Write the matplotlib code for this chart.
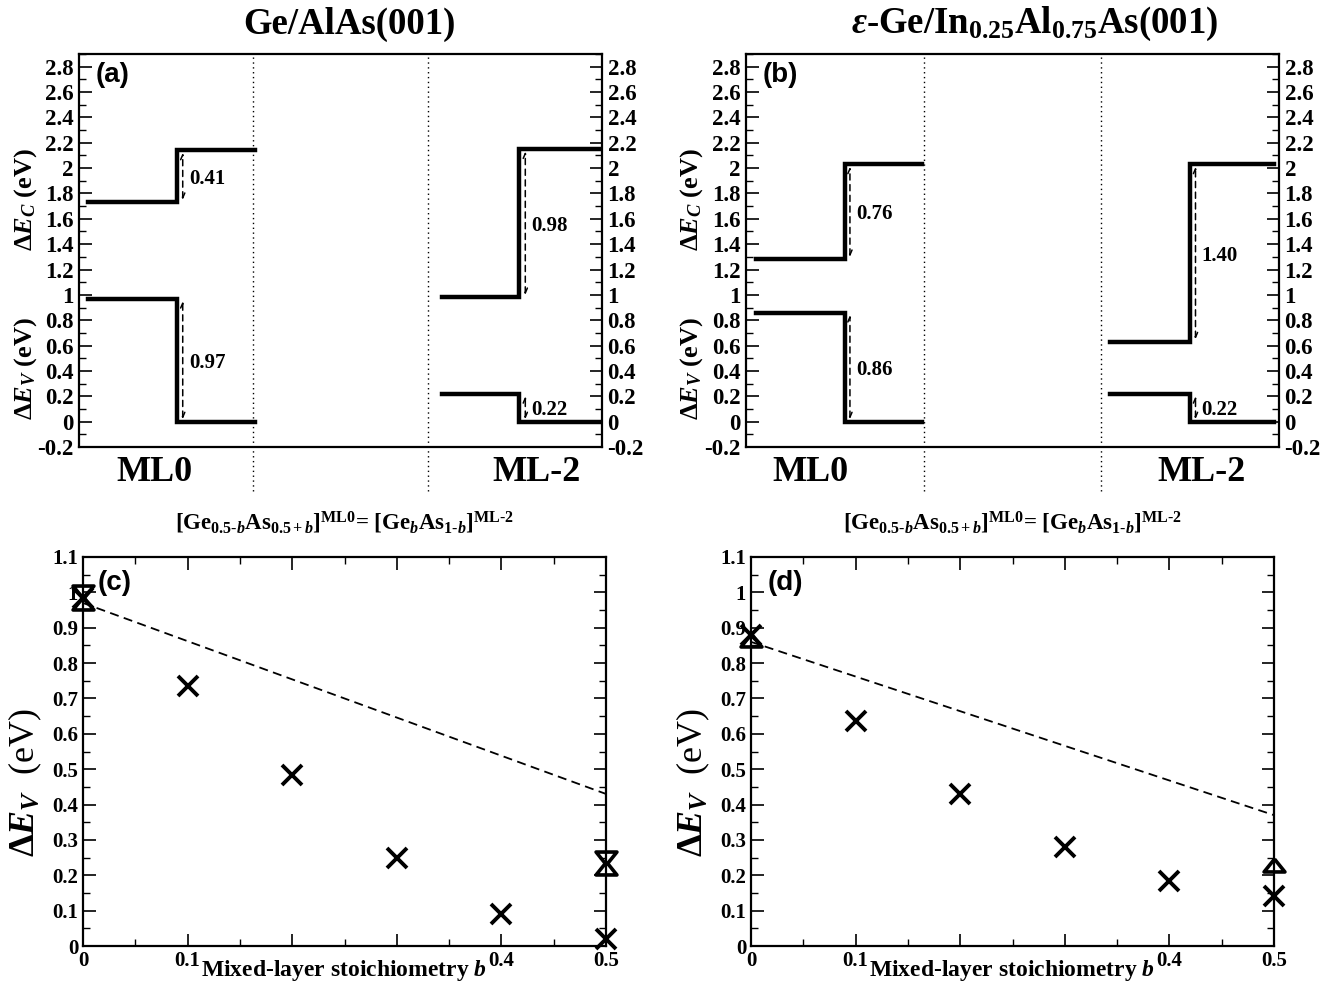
import matplotlib
matplotlib.use("Agg")
import matplotlib.pyplot as plt
from matplotlib.ticker import MultipleLocator, FuncFormatter
import matplotlib.transforms as mtransforms

plt.rcParams['font.family'] = ['Liberation Serif', 'DejaVu Serif']
plt.rcParams['font.weight'] = 'bold'
plt.rcParams['mathtext.fontset'] = 'custom'
plt.rcParams['mathtext.rm'] = 'Liberation Serif:bold'
plt.rcParams['mathtext.it'] = 'Liberation Serif:bold:italic'
plt.rcParams['mathtext.bf'] = 'Liberation Serif:bold'
plt.rcParams['axes.linewidth'] = 1.6

# ---------------- data: band offsets (top panels) ----------------
# conduction / valence band levels for ML0 (left, right) and ML-2 (left, right)
a_ml0_cb = [1.73, 2.14]
a_ml0_vb = [0.97, 0.00]
a_ml2_cb = [0.98, 2.15]
a_ml2_vb = [0.22, 0.00]
a_labels = ["0.41", "0.97", "0.98", "0.22"]

b_ml0_cb = [1.28, 2.03]
b_ml0_vb = [0.86, 0.00]
b_ml2_cb = [0.63, 2.03]
b_ml2_vb = [0.22, 0.00]
b_labels = ["0.76", "0.86", "1.40", "0.22"]

top_titles = ["Ge/AlAs(001)", r"$\varepsilon$-Ge/In$_{0.25}$Al$_{0.75}$As(001)"]

# ---------------- data: bottom panels ----------------
b_vals = [0.0, 0.1, 0.2, 0.3, 0.4, 0.5]
b_ticklabels = ["0", "0.1", "", "", "0.4", "0.5"]   # 0.2 / 0.3 hidden under axis title
c_cross = [0.985, 0.735, 0.484, 0.249, 0.09, 0.02]
c_up_b = [0.0, 0.5]
c_up = [0.97, 0.22]
c_down_b = [0.0, 0.5]
c_down = [1.00, 0.25]
c_line_b = [0.0, 0.5]
c_line = [0.97, 0.43]

d_cross = [0.88, 0.636, 0.43, 0.28, 0.184, 0.14]
d_up_b = [0.0, 0.5]
d_up = [0.865, 0.23]
d_line_b = [0.0, 0.5]
d_line = [0.86, 0.37]

W, H = 1338, 998
fig = plt.figure(figsize=(W / 100, H / 100), dpi=100)


def rect(l, r, t, b):
    return [l / W, 1 - b / H, (r - l) / W, (b - t) / H]


fmt = FuncFormatter(lambda v, p: f"{v:.2f}".rstrip('0').rstrip('.') if abs(v) > 1e-9 else "0")

up_tri = [(0, 0.62), (-1, -0.62), (1, -0.62), (0, 0.62)]
down_tri = [(0, -0.62), (-1, 0.62), (1, 0.62), (0, -0.62)]


def top_panel(rc, cb0, vb0, cb2, vb2, labels, xs, tag, mlpos, ml2pos):
    ax = fig.add_axes(rc)
    ax.set_xlim(0, 6)
    ax.set_ylim(-0.2, 2.9)
    x0s, x0m, x0e, x2s, x2m, x2e, off = xs
    lw = 3.2
    ax.plot([x0s, x0m, x0m, x0e], [cb0[0], cb0[0], cb0[1], cb0[1]], color='k', lw=lw, solid_joinstyle='miter')
    ax.plot([x0s, x0m, x0m, x0e], [vb0[0], vb0[0], vb0[1], vb0[1]], color='k', lw=lw, solid_joinstyle='miter')
    ax.plot([x2s, x2m, x2m, x2e], [cb2[0], cb2[0], cb2[1], cb2[1]], color='k', lw=lw, solid_joinstyle='miter')
    ax.plot([x2s, x2m, x2m, x2e], [vb2[0], vb2[0], vb2[1], vb2[1]], color='k', lw=lw, solid_joinstyle='miter')
    # dotted separators
    for xv in (2.0, 4.0):
        ax.plot([xv, xv], [-0.55, 2.9], color='k', lw=1.0, ls=(0, (1, 2.5)), clip_on=False)
    # arrows
    arrs = [(x0m + off, cb0), (x0m + off, vb0), (x2m + off, cb2), (x2m + off, vb2)]
    for (xa, lv), lab in zip(arrs, labels):
        lo, hi = min(lv), max(lv)
        ax.annotate("", xy=(xa, hi - 0.02), xytext=(xa, lo + 0.02),
                    arrowprops=dict(arrowstyle='<->,head_length=0.35,head_width=0.15',
                                    lw=1.1, ls=(0, (4, 3)), color='k', shrinkA=0, shrinkB=0))
        ax.text(xa + 0.07, (lo + hi) / 2 - 0.02, lab, fontsize=15, fontweight='bold', va='center', ha='left')
    ax.yaxis.set_major_locator(MultipleLocator(0.2))
    ax.yaxis.set_minor_locator(MultipleLocator(0.1))
    ax.yaxis.set_major_formatter(fmt)
    ax.tick_params(axis='y', which='both', direction='in', left=True, right=True,
                   labelleft=True, labelright=True, labelsize=16.5, pad=4)
    ax.tick_params(axis='y', which='major', length=9, width=1.2)
    ax.tick_params(axis='y', which='minor', length=5, width=1.0)
    ax.set_xticks([])
    for lab in ax.get_yticklabels():
        lab.set_fontweight('bold')
    trans = mtransforms.blended_transform_factory(ax.transData, ax.transAxes)
    ax.text(mlpos, -0.064, "ML0", transform=trans, ha='center', va='center', fontsize=26, fontweight='bold')
    ax.text(ml2pos, -0.064, "ML-2", transform=trans, ha='center', va='center', fontsize=26, fontweight='bold')
    ax.text(0.065, 0.947, tag, transform=ax.transAxes, ha='center', va='center', fontsize=20,
            fontweight='bold', family=['Liberation Sans', 'DejaVu Sans'])
    ax.text(-0.103, 0.63, r"$\Delta E_C$ (eV)", transform=ax.transAxes, rotation=90,
            ha='center', va='center', fontsize=19)
    ax.text(-0.103, 0.20, r"$\Delta E_V$ (eV)", transform=ax.transAxes, rotation=90,
            ha='center', va='center', fontsize=19)
    return ax


ax_a = top_panel(rect(79, 602, 54, 447), a_ml0_cb, a_ml0_vb, a_ml2_cb, a_ml2_vb, a_labels,
                 (0.10, 1.12, 2.02, 4.16, 5.05, 6.0, 0.07), "(a)", 0.87, 5.25)
ax_b = top_panel(rect(746, 1279, 54, 447), b_ml0_cb, b_ml0_vb, b_ml2_cb, b_ml2_vb, b_labels,
                 (0.11, 1.11, 1.98, 4.10, 5.00, 5.94, 0.06), "(b)", 0.73, 5.13)

fig.text(349 / W, 1 - 24 / H, top_titles[0], ha='center', va='center', fontsize=26.5, fontweight='bold')
fig.text(1035 / W, 1 - 24 / H, top_titles[1], ha='center', va='center', fontsize=26.5, fontweight='bold')

formula = r"[Ge$_{0.5\text{-}b}$As$_{0.5+b}$]$^{\mathrm{ML0}}$= [Ge$_b$As$_{1\text{-}b}$]$^{\mathrm{ML\text{-}2}}$"


def bottom_panel(rc, cross, upb, up, downb, down, lb, lv, tag, tagx):
    ax = fig.add_axes(rc)
    ax.set_xlim(0, 0.5)
    ax.set_ylim(0, 1.1)
    ax.plot(lb, lv, color='k', lw=1.3, ls=(0, (5, 3)))
    ax.plot(b_vals, cross, ls='none', marker='x', ms=14, mew=2.8, color='k', clip_on=False, zorder=5)
    ax.plot(upb, up, ls='none', marker=up_tri, ms=15, mew=2.6, mfc='none', mec='k', clip_on=False, zorder=5)
    if down is not None:
        ax.plot(downb, down, ls='none', marker=down_tri, ms=15, mew=2.6, mfc='none', mec='k',
                clip_on=False, zorder=5)
    ax.set_xticks(b_vals)
    ax.set_xticklabels(b_ticklabels)
    ax.xaxis.set_minor_locator(MultipleLocator(0.05))
    ax.yaxis.set_major_locator(MultipleLocator(0.1))
    ax.yaxis.set_minor_locator(MultipleLocator(0.05))
    ax.yaxis.set_major_formatter(fmt)
    ax.tick_params(which='both', direction='in', top=True, right=True, labelsize=15)
    ax.tick_params(which='major', length=9, width=1.2)
    ax.tick_params(which='minor', length=5, width=1.0)
    for lab in ax.get_xticklabels() + ax.get_yticklabels():
        lab.set_fontweight('bold')
    ax.set_xlabel(r"Mixed-layer stoichiometry $b$", fontsize=17, fontweight='bold', labelpad=-9)
    ax.set_ylabel(r"$\Delta E_V$  (eV)", fontsize=26)
    ax.yaxis.set_label_coords(-0.075, 0.42)
    ax.text(0.5, 1.055, formula, transform=ax.transAxes, ha='center', va='bottom', fontsize=16.5)
    ax.text(tagx, 0.933, tag, transform=ax.transAxes, ha='center', va='center', fontsize=20,
            fontweight='bold', family=['Liberation Sans', 'DejaVu Sans'])
    return ax


bottom_panel(rect(83, 606, 557, 946), c_cross, c_up_b, c_up, c_down_b, c_down, c_line_b, c_line, "(c)", 0.06)
bottom_panel(rect(751, 1274, 557, 946), d_cross, d_up_b, d_up, None, None, d_line_b, d_line, "(d)", 0.066)

fig.savefig("out.png", dpi=100)
